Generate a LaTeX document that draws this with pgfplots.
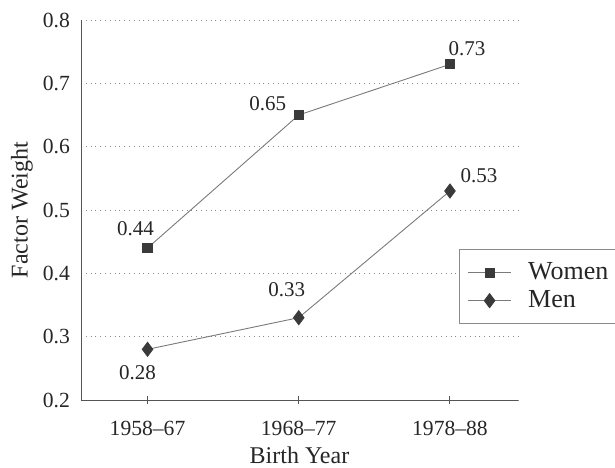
\documentclass[border=0pt]{standalone}
\usepackage{pgfplots}
\pgfplotsset{compat=1.18}
\usepackage{pgfplotstable}
\usepackage{fontspec}
\setmainfont{Liberation Serif}
\definecolor{markc}{HTML}{3A3A3A}
\definecolor{linec}{HTML}{7A7A7A}
\definecolor{gridc}{HTML}{8A8A8A}
\definecolor{axisc}{HTML}{555555}

\pgfplotstableread{
x y lab dx dy
0 0.44 0.44 -6 9.5
1 0.65 0.65 -15.5 5.5
2 0.73 0.73 8.5 7.75
}\women
\pgfplotstableread{
x y lab dx dy
0 0.28 0.28 -5 -11.5
1 0.33 0.33 -6 14
2 0.53 0.53 14.5 7.5
}\men

\begin{document}
\begin{tikzpicture}
\begin{axis}[
  at={(0,0)}, anchor=south west,
  scale only axis,
  width=218.5pt, height=190pt,
  xmin=-0.44, xmax=2.45,
  ymin=0.2, ymax=0.8,
  xtick={0,1,2},
  xticklabels={1958--67,1968--77,1978--88},
  ytick={0.2,0.3,0.4,0.5,0.6,0.7,0.8},
  yticklabel style={/pgf/number format/.cd, fixed, fixed zerofill, precision=1},
  /pgf/number format/assume math mode=true,
  axis x line*=bottom,
  axis y line*=left,
  axis line style={draw=axisc, line width=0.5pt, -},
  ymajorgrids,
  major grid style={draw=gridc, dotted, line width=0.5pt},
  ytick style={draw=none},
  xtick style={draw=axisc, line width=0.5pt},
  major tick length=4pt,
  tick align=center,
  tick label style={font=\fontsize{10.8}{12}\selectfont, text=black!85},
  xticklabel style={yshift=-5pt},
  every axis x label/.style={at={(axis description cs:0.5,0)}, yshift=-27.5pt, anchor=center, font=\fontsize{12}{14}\selectfont, text=black!85},
  every axis y label/.style={at={(axis description cs:0,0.5)}, xshift=-29.5pt, rotate=90, anchor=center, font=\fontsize{12}{14}\selectfont, text=black!85},
  xlabel={Birth Year},
  ylabel={Factor Weight},
  legend style={at={(rel axis cs:0.865,0.397)}, anchor=north west, draw=gridc, line width=0.5pt,
    font=\fontsize{13}{15}\selectfont, text=black!85, inner xsep=4pt, inner ysep=4.5pt, row sep=0pt},
  legend cell align=left,
  legend image code/.code={\draw[#1, mark repeat=2, mark phase=2] plot coordinates {(0cm,0cm) (0.38cm,0cm) (0.76cm,0cm)}; \path (0.98cm,0cm);},
  nodes near coords,
  point meta=explicit symbolic,
  visualization depends on={\thisrow{dx} \as \mydx},
  visualization depends on={\thisrow{dy} \as \mydy},
  every node near coord/.style={anchor=center, xshift=\mydx pt, yshift=\mydy pt, font=\fontsize{10.5}{12}\selectfont, text=black!85},
]
\addplot[draw=linec, line width=0.45pt, mark=square*, mark size=2.3pt, mark options={draw=markc, fill=markc}]
  table[x=x, y=y, meta=lab] {\women};
\addlegendentry{Women}
\addplot[draw=linec, line width=0.45pt, mark=diamond*, mark size=3.5pt, mark options={draw=markc, fill=markc}]
  table[x=x, y=y, meta=lab] {\men};
\addlegendentry{Men}
\end{axis}
\pgfresetboundingbox
\path[use as bounding box] (-40.5pt,-33.5pt) rectangle (267pt,200pt);
\end{tikzpicture}
\end{document}
